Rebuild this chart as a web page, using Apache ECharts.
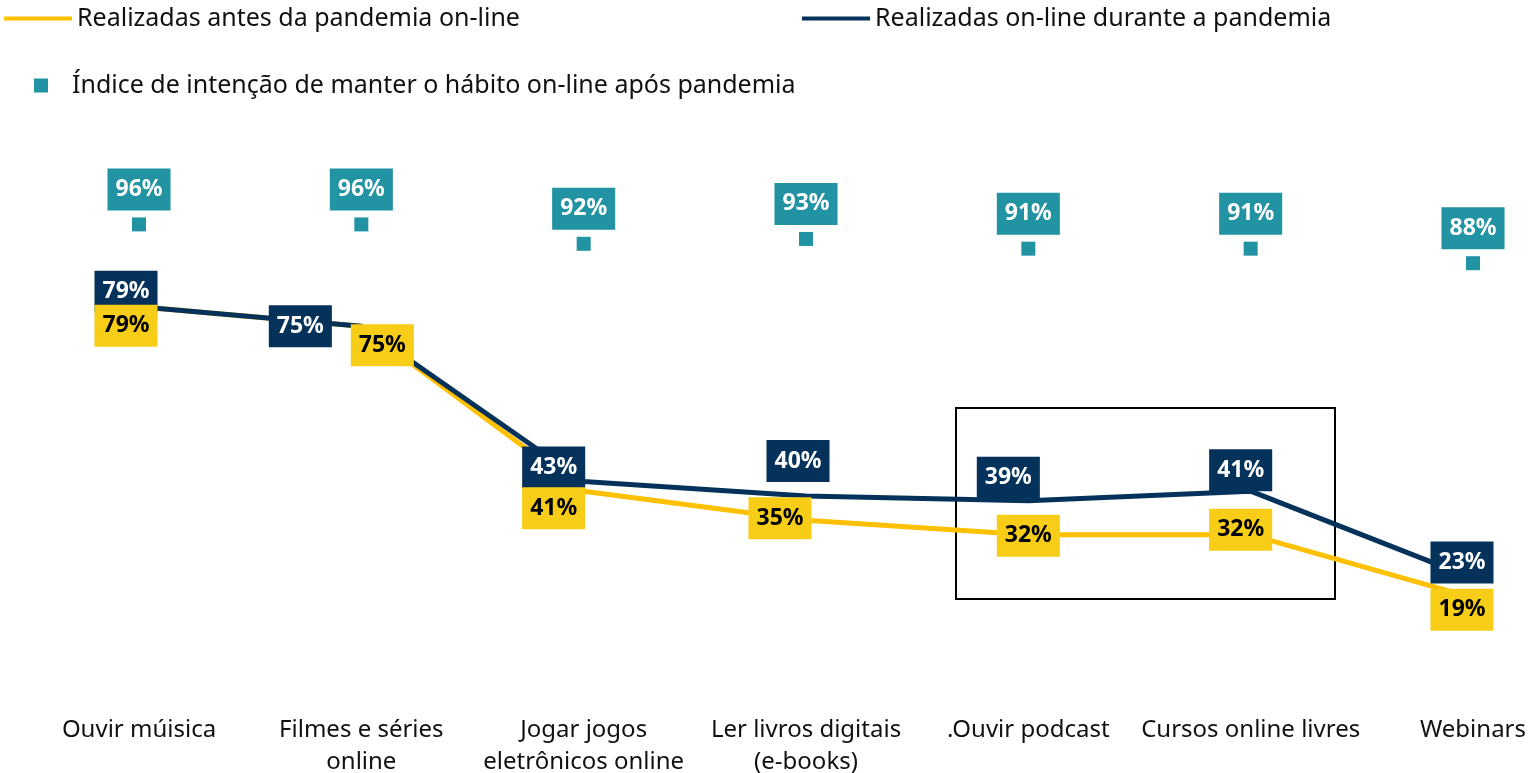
<!DOCTYPE html>
<html>
<head>
<meta charset="utf-8">
<script src="https://cdn.jsdelivr.net/npm/echarts@6/dist/echarts.min.js"></script>
<style>
  html, body { margin: 0; padding: 0; background: #fff; }
  #chart { width: 1530px; height: 773px; }
</style>
</head>
<body>
<div id="chart"></div>
<script>
var categories = ['Ouvir múisica', 'Filmes e séries\nonline', 'Jogar jogos\neletrônicos online', 'Ler livros digitais\n(e-books)', '.Ouvir podcast', 'Cursos online livres', 'Webinars'];
var antes = [79, 75, 41, 35, 32, 32, 19];
var durante = [79, 75, 43, 40, 39, 41, 23];
var intencao = [96, 96, 92, 93, 91, 91, 88];

// label box offsets (px) relative to each point
var offAntes = [[-13, 19], [21, 19], [-30, 17], [-26, -2], [0, 1], [-10, -5], [-11, 12]];
var offDurante = [[-13, -15], [-61, 0], [-30, -14], [-8, -35], [-20, -23], [-10, -21], [-11, -16]];

var yellow = '#FFC000', yellowBox = '#F7CD17', navy = '#04325A', teal = '#2193A3';
var font = 'Noto Sans';
var nameAntes = 'Realizadas antes da pandemia on-line';
var nameDurante = 'Realizadas on-line durante a pandemia';
var nameIntencao = 'Índice de intenção de manter o hábito on-line após pandemia';

function withOffsets(values, offs) {
  return values.map(function (v, i) {
    return { value: v, label: { offset: offs[i] } };
  });
}

function boxLabel(bg, color) {
  return {
    show: true,
    position: 'inside',
    formatter: '{c}%',
    backgroundColor: bg,
    color: color,
    fontFamily: font,
    fontWeight: 'bold',
    fontSize: 23,
    padding: [10, 8, 9, 8]
  };
}

var legendText = { fontSize: 25, color: '#111', fontFamily: font };

var chart = echarts.init(document.getElementById('chart'));
var option = {
  animation: false,
  textStyle: { fontFamily: font },
  legend: [
    {
      left: 4, top: 6, padding: 0,
      icon: 'rect', itemWidth: 68, itemHeight: 4,
      textStyle: legendText,
      data: [nameAntes]
    },
    {
      left: 802, top: 6, padding: 0,
      icon: 'rect', itemWidth: 68, itemHeight: 4,
      textStyle: legendText,
      data: [nameDurante]
    },
    {
      left: 34, top: 73, padding: 0,
      icon: 'rect', itemWidth: 14, itemHeight: 14,
      itemStyle: { color: teal, opacity: 1 },
      textStyle: Object.assign({}, legendText, { padding: [0, 0, 0, 19] }),
      data: [nameIntencao]
    }
  ],
  grid: { left: 139, right: 57, top: 205, bottom: 83, outerBoundsMode: 'none', containLabel: false },
  xAxis: {
    type: 'category',
    boundaryGap: false,
    data: categories,
    axisLine: { show: false },
    axisTick: { show: false },
    axisLabel: {
      fontSize: 24, color: '#111', fontFamily: font,
      lineHeight: 32, margin: 24, interval: 0
    }
  },
  yAxis: {
    type: 'value',
    min: 0, max: 100,
    show: false,
    splitLine: { show: false }
  },
  series: [
    {
      name: nameAntes,
      type: 'line',
      data: antes,
      symbol: 'none',
      itemStyle: { color: yellow },
      lineStyle: { color: yellow, width: 5 },
      z: 2
    },
    {
      name: nameDurante,
      type: 'line',
      data: withOffsets(durante, offDurante),
      symbol: 'circle', symbolSize: 1,
      itemStyle: { color: navy },
      lineStyle: { color: navy, width: 5 },
      label: boxLabel(navy, '#fff'),
      z: 3
    },
    {
      // labels of the yellow series, drawn above both lines
      name: nameAntes + ' (rótulos)',
      type: 'line',
      data: withOffsets(antes, offAntes),
      symbol: 'circle', symbolSize: 1,
      itemStyle: { color: 'rgba(0,0,0,0)' },
      lineStyle: { width: 0, color: 'rgba(0,0,0,0)' },
      label: boxLabel(yellowBox, '#000'),
      silent: true,
      z: 4
    },
    {
      name: nameIntencao,
      type: 'scatter',
      data: intencao,
      symbol: 'rect', symbolSize: 14,
      itemStyle: { color: teal, opacity: 1 },
      label: Object.assign(boxLabel(teal, '#fff'), { offset: [0, -35] }),
      z: 3
    }
  ],
  graphic: [
    {
      type: 'rect',
      shape: { x: 956, y: 408, width: 379, height: 191 },
      style: { fill: null, stroke: '#000', lineWidth: 2 },
      z: 1
    }
  ]
};
chart.setOption(option);
</script>
</body>
</html>
